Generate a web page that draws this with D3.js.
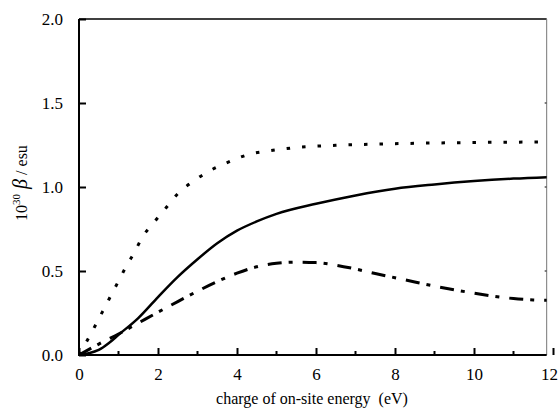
<!DOCTYPE html>
<html>
<head>
<meta charset="utf-8">
<script src="https://cdn.jsdelivr.net/npm/d3@7"></script>
<style>
  body { margin: 0; background: #fff; }
  svg, svg text { font-family: "Liberation Serif", "DejaVu Serif", serif; }
</style>
</head>
<body>
<svg width="558" height="409"></svg>
<script>
// values
var solidX = [0, 0.25, 0.5, 0.75, 1, 1.5, 2, 2.5, 3, 3.5, 4, 4.5, 5, 6, 7, 8, 9, 10, 11, 12]
var solidY = [0, 0.01, 0.03, 0.07, 0.12, 0.22, 0.345, 0.465, 0.57, 0.665, 0.74, 0.795, 0.84, 0.9, 0.95, 0.99, 1.015, 1.035, 1.05, 1.06]

var dotX = [0, 0.2, 0.4, 0.6, 0.8, 1.0, 1.2, 1.4, 1.6, 1.9, 2.2, 2.5, 2.9, 3.3, 3.7, 4.0, 4.4, 4.8, 5.5, 6.5, 7.5, 9, 10.5, 12]
var dotY = [0, 0.083, 0.17, 0.26, 0.35, 0.44, 0.53, 0.61, 0.7, 0.79, 0.875, 0.96, 1.035, 1.095, 1.14, 1.17, 1.2, 1.215, 1.235, 1.248, 1.255, 1.262, 1.266, 1.268]

var dashX = [0, 0.5, 1, 1.5, 2, 2.5, 3, 3.5, 4, 4.5, 5, 5.5, 6, 6.5, 7, 7.5, 8, 8.5, 9, 9.5, 10, 10.5, 11, 11.5, 12]
var dashY = [0, 0.065, 0.125, 0.19, 0.255, 0.318, 0.38, 0.437, 0.487, 0.525, 0.546, 0.553, 0.55, 0.535, 0.512, 0.485, 0.46, 0.435, 0.41, 0.388, 0.368, 0.35, 0.336, 0.328, 0.325]

var xTicks = [0, 2, 4, 6, 8, 10, 12]
var xMinor = [1, 3, 5, 7, 9, 11]
var yTicks = [0, 0.5, 1.0, 1.5, 2.0]
var xShownMax = 11.84

var serif = '"Liberation Serif", "DejaVu Serif", serif'
var svg = d3.select('svg')

var x = d3.scaleLinear().domain([0, 12]).range([79, 553])
var y = d3.scaleLinear().domain([0, 2]).range([355, 19])

// clip so curves stop at the frame
svg.append('clipPath').attr('id', 'clip')
    .append('rect')
    .attr('x', x(0)).attr('y', y(2))
    .attr('width', x(xShownMax) - x(0)).attr('height', y(0) - y(2))

// frame top + right
svg.append('line')
    .attr('x1', x(0)).attr('x2', x(xShownMax))
    .attr('y1', y(2)).attr('y2', y(2))
    .attr('stroke', '#000').attr('stroke-width', 1.5)
svg.append('line')
    .attr('x1', x(xShownMax)).attr('x2', x(xShownMax))
    .attr('y1', y(2)).attr('y2', y(0))
    .attr('stroke', '#777').attr('stroke-width', 1)
svg.selectAll('.rtick')
    .data(yTicks.slice(1, 4))
    .enter()
    .append('line')
    .attr('x1', x(xShownMax) - 2).attr('x2', x(xShownMax))
    .attr('y1', function (d) { return y(d) }).attr('y2', function (d) { return y(d) })
    .attr('stroke', '#555').attr('stroke-width', 1.5)

// x axis
var xAxis = d3.axisBottom(x)
    .tickValues(xTicks)
    .tickSizeInner(-7).tickSizeOuter(0)
    .tickPadding(13)
    .tickFormat(d3.format('d'))
var gx = svg.append('g')
    .attr('transform', 'translate(0,' + y(0) + ')')
    .call(xAxis)
gx.attr('font-family', serif)
gx.select('.domain').remove()
gx.selectAll('.tick line').attr('stroke-width', 2)
gx.selectAll('.tick text')
    .style('font-family', serif)
    .attr('font-size', 17).attr('fill', '#000')
    .attr('dx', function (d) { return d === 12 ? -4 : 0 })
svg.append('line')
    .attr('x1', x(0) - 1).attr('x2', x(xShownMax))
    .attr('y1', y(0)).attr('y2', y(0))
    .attr('stroke', '#000').attr('stroke-width', 2)
svg.selectAll('.xminor')
    .data(xMinor)
    .enter()
    .append('line')
    .attr('x1', function (d) { return x(d) }).attr('x2', function (d) { return x(d) })
    .attr('y1', y(0)).attr('y2', y(0) - 4)
    .attr('stroke', '#000').attr('stroke-width', 2)

// y axis
var yAxis = d3.axisLeft(y)
    .tickValues(yTicks)
    .tickSizeInner(-7).tickSizeOuter(0)
    .tickPadding(16)
    .tickFormat(d3.format('.1f'))
var gy = svg.append('g')
    .attr('transform', 'translate(' + x(0) + ',0)')
    .call(yAxis)
gy.attr('font-family', serif)
gy.select('.domain').remove()
gy.selectAll('.tick line').attr('stroke-width', 2)
gy.selectAll('.tick text')
    .style('font-family', serif)
    .attr('font-size', 17).attr('fill', '#000')
svg.append('line')
    .attr('x1', x(0)).attr('x2', x(0))
    .attr('y1', y(2)).attr('y2', y(0) + 1)
    .attr('stroke', '#000').attr('stroke-width', 2)

// curves
var line = d3.line()
    .x(function (d) { return x(d[0]) })
    .y(function (d) { return y(d[1]) })
    .curve(d3.curveMonotoneX)

function draw(xs, ys, width, dash) {
    svg.append('path')
        .datum(d3.zip(xs, ys))
        .attr('d', line)
        .attr('clip-path', 'url(#clip)')
        .attr('fill', 'none')
        .attr('stroke', '#000')
        .attr('stroke-width', width)
        .attr('stroke-dasharray', dash)
}
draw(solidX, solidY, 2.5, null)
draw(dotX, dotY, 3, '3.5,12')
draw(dashX, dashY, 3, '14,7,4,10')

// titles
svg.append('text')
    .attr('x', (x(0) + x(12)) / 2 - 4).attr('y', 404)
    .attr('text-anchor', 'middle')
    .attr('font-size', 16)
    .attr('xml:space', 'preserve')
    .text('charge of on-site energy  (eV)')

var yt = svg.append('text')
    .attr('transform', 'translate(27,' + (y(1) - 4) + ') rotate(-90)')
    .attr('text-anchor', 'middle')
    .attr('font-size', 16)
yt.append('tspan').text('10')
yt.append('tspan').attr('dy', -7).attr('font-size', 11).text('30')
yt.append('tspan').attr('dy', 7).attr('font-style', 'italic').attr('font-size', 20).text(' β')
yt.append('tspan').attr('font-size', 16).text(' / esu')
</script>
</body>
</html>
